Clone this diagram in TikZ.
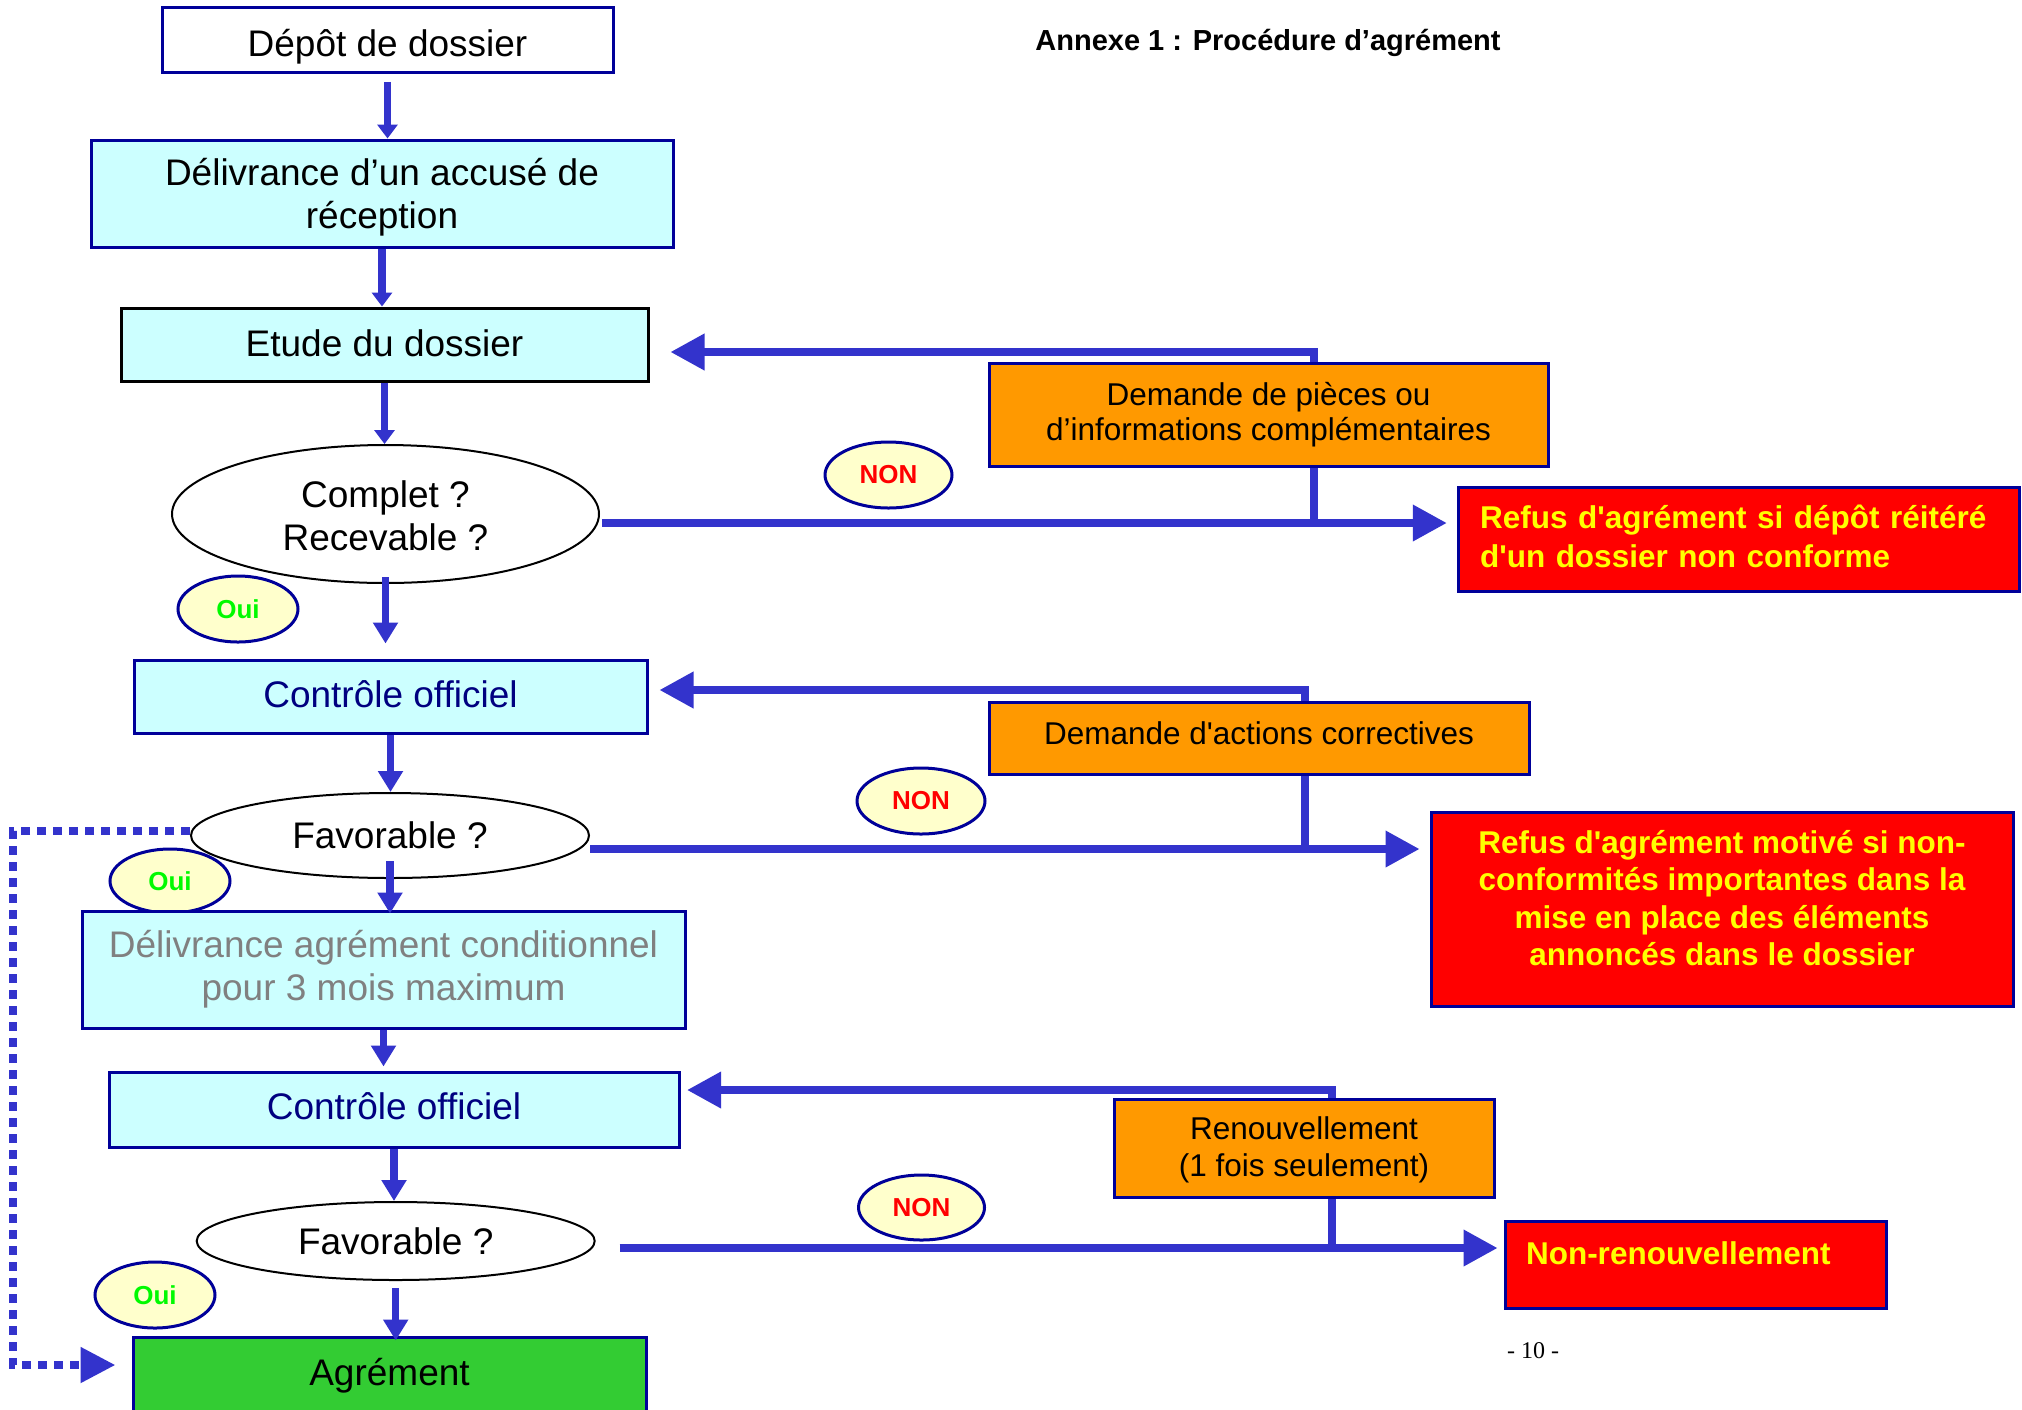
\documentclass[tikz,border=0pt]{standalone}
\usepackage{fontspec}
\setmainfont{Liberation Sans}
\newfontfamily\rawsans{Liberation Sans}[Ligatures=TeXOff]
\newfontfamily\serifpn{Liberation Serif}
\usetikzlibrary{arrows.meta,shapes.geometric}
\definecolor{navyb}{RGB}{0,0,153}
\definecolor{arrowb}{RGB}{51,51,204}
\definecolor{cyanf}{RGB}{204,255,255}
\definecolor{orangef}{RGB}{255,153,0}
\definecolor{redf}{RGB}{255,0,0}
\definecolor{yellowt}{RGB}{255,255,0}
\definecolor{greenf}{RGB}{51,204,51}
\definecolor{ouig}{RGB}{0,250,0}
\definecolor{labf}{RGB}{255,255,204}
\definecolor{ctrlt}{RGB}{0,0,128}
\definecolor{grayt}{RGB}{128,128,128}
\newcommand{\shiftv}[2]{\raisebox{#1}[\height][\depth]{#2}}
\newcommand{\stack}[1]{\begin{tabular}{@{}c@{}}#1\end{tabular}}
\newcommand{\stackl}[1]{\begin{tabular}{@{}l@{}}#1\end{tabular}}
\begin{document}
\begin{tikzpicture}[x=0.5pt,y=-0.5pt,
  mainbox/.style={rectangle, draw=navyb, line width=1.5pt, fill=cyanf, inner sep=0pt, align=center,
    font=\fontsize{18.5}{21.5}\selectfont},
  decision/.style={ellipse, draw=black, line width=1pt, fill=white, inner sep=0pt, align=center,
    font=\fontsize{18.5}{21.5}\selectfont},
  label/.style={ellipse, draw=navyb, line width=1.5pt, fill=labf, inner sep=0pt,
    font=\bfseries\fontsize{13}{15}\selectfont},
  ouilab/.style={label, text=ouig},
  nonlab/.style={label, text=redf},
  orangebox/.style={rectangle, draw=navyb, line width=1.5pt, fill=orangef, inner sep=0pt, align=center,
    font=\fontsize{15.75}{17.5}\selectfont},
  redbox/.style={rectangle, draw=navyb, line width=1.5pt, fill=redf, text=yellowt, inner sep=0pt,
    font=\rawsans\bfseries\fontsize{15.75}{18.75}\selectfont},
  conn/.style={draw=arrowb, line width=3.6pt},
  arrS/.style={conn, -{Triangle[width=10pt,length=7pt]}},
  arrM/.style={conn, -{Triangle[width=12pt,length=10.5pt]}},
  arrL/.style={conn, -{Triangle[width=17.5pt,length=17pt]}},
  dotarr/.style={draw=arrowb, line width=4pt, dash pattern=on 4.5pt off 3.5pt, -{Triangle[width=17pt,length=17.5pt]}}
]
\useasboundingbox (0,0) rectangle (2022,1409);

% title and page number
\node[font=\bfseries\fontsize{14.5}{17}\selectfont] (title) at (1268,43) {Annexe 1 : Procédure d’agrément};
\node[font=\serifpn\fontsize{12}{14}\selectfont] (pn) at (1533,1351) {- 10 -};

% main column
\node[mainbox, fill=white, minimum width=225.5pt, minimum height=32.25pt] (depot) at (387.5,40) {\shiftv{-3.2pt}{Dépôt de dossier}};
\node[mainbox, minimum width=291pt, minimum height=53.5pt] (accuse) at (382,193.5) {\shiftv{-2.6pt}{\stack{Délivrance d’un accusé de\\réception}}};
\node[mainbox, draw=black, minimum width=263.5pt, minimum height=36.5pt] (etude) at (384.5,344.5) {\shiftv{0.6pt}{Etude du dossier}};
\node[decision, minimum width=213.5pt, minimum height=69pt] (complet) at (385.5,514) {\shiftv{-3.3pt}{\stack{Complet ?\\Recevable ?}}};
\node[ouilab, minimum width=60pt, minimum height=33pt] (oui1) at (238,609) {Oui};
\node[mainbox, text=ctrlt, minimum width=256.5pt, minimum height=36.5pt] (ctrl1) at (390.5,696.5) {\shiftv{1.3pt}{Contrôle officiel}};
\node[decision, minimum width=199pt, minimum height=42.5pt] (fav1) at (390,835.5) {Favorable ?};
\node[ouilab, minimum width=60pt, minimum height=32pt] (oui2) at (170,881) {Oui};
\node[mainbox, text=grayt, minimum width=301.5pt, minimum height=58.5pt] (cond) at (383.5,969.5) {Délivrance agrément conditionnel\\pour 3 mois maximum};
\node[mainbox, text=ctrlt, minimum width=285pt, minimum height=37.5pt] (ctrl2) at (394,1109.5) {\shiftv{1.9pt}{Contrôle officiel}};
\node[decision, minimum width=199pt, minimum height=39pt] (fav2) at (395.7,1241) {Favorable ?};
\node[ouilab, minimum width=60pt, minimum height=33pt] (oui3) at (155,1295) {Oui};
\node[mainbox, fill=greenf, minimum width=256.5pt, minimum height=46.5pt] (agr) at (389.5,1383.5) {\shiftv{4pt}{Agrément}};

% right side
\node[orangebox, minimum width=279.5pt, minimum height=51.5pt] (pieces) at (1268.5,414.5) {Demande de pièces ou\\d’informations complémentaires};
\node[redbox, minimum width=280.75pt, minimum height=52pt, text width=259pt, align=left, font=\rawsans\bfseries\fontsize{15.75}{19.5}\selectfont] (refus1) at (1739,539) {\shiftv{-0.7pt}{\stackl{Refus d'agrément si dépôt réitéré\\d'un dossier non conforme}}};
\node[nonlab, minimum width=63.5pt, minimum height=33pt] (non1) at (888.5,475) {NON};

\node[orangebox, minimum width=270pt, minimum height=36pt] (actions) at (1259,738) {\shiftv{2.6pt}{\rawsans Demande d'actions correctives}};
\node[redbox, minimum width=291pt, minimum height=97pt, align=center] (refus2) at (1722,909) {\shiftv{3.5pt}{\stack{Refus d'agrément motivé si non-\\conformités importantes dans la\\mise en place des éléments\\annoncés dans le dossier}}};
\node[nonlab, minimum width=64pt, minimum height=33pt] (non2) at (921,801) {NON};

\node[orangebox, minimum width=190pt, minimum height=49pt, font=\fontsize{15.75}{18.75}\selectfont] (renouv) at (1304,1148) {\shiftv{-1.3pt}{\stack{Renouvellement\\(1 fois seulement)}}};
\node[redbox, minimum width=190.5pt, minimum height=43.5pt, text width=169.5pt, align=left] (nonren) at (1695.5,1264.5) {\shiftv{5.8pt}{Non-renouvellement}};
\node[nonlab, minimum width=63pt, minimum height=32.5pt] (non3) at (921.5,1207.5) {NON};

% vertical flow arrows
\draw[arrS, shorten <=4pt] (depot.south) -- (depot.south |- accuse.north);
\draw[arrS] (accuse.south) -- (accuse.south |- etude.north);
\draw[arrS] (etude.south) -- (etude.south |- complet.north);
\draw[arrM, shorten <=-3.5pt, shorten >=7.5pt] (complet.south) -- (complet.south |- ctrl1.north);
\draw[arrM] (ctrl1.south) -- (ctrl1.south |- fav1.north);
\draw[arrM, shorten <=-9pt, shorten >=-2pt] (fav1.south) -- (fav1.south |- cond.north);
\draw[arrM, shorten >=2pt] (cond.south) -- (cond.south |- ctrl2.north);
\draw[arrM] (ctrl2.south) -- (ctrl2.south |- fav2.north);
\draw[arrM, shorten <=3.5pt, shorten >=-2.5pt] (fav2.south) -- (fav2.south |- agr.north);

% loop 1
\coordinate (j1) at (1314,523);
\coordinate (t1) at (1314,352);
\draw[conn, shorten <=1pt] ([yshift=-4.5pt]complet.east) -- (j1) -- (j1 |- pieces.south);
\draw[arrL, shorten >=10.5pt] (j1 |- pieces.north) -- (t1) -- (t1 -| etude.east);
\draw[arrL, shorten >=5pt] (j1) -- (j1 -| refus1.west);

% loop 2
\coordinate (j2) at (1305,849);
\coordinate (t2) at (1305,690);
\draw[conn] ([yshift=-6.75pt]fav1.east) -- (j2) -- (j2 |- actions.south);
\draw[arrL, shorten >=5.5pt] (j2 |- actions.north) -- (t2) -- (t2 -| ctrl1.east);
\draw[arrL, shorten >=5pt] (j2) -- (j2 -| refus2.west);

% loop 3
\coordinate (j3) at (1332,1248);
\coordinate (t3) at (1332,1090);
\draw[conn, shorten <=12pt] ([yshift=-3.5pt]fav2.east) -- (j3) -- (j3 |- renouv.south);
\draw[arrL, shorten >=3.3pt] (j3 |- renouv.north) -- (t3) -- (t3 -| ctrl2.east);
\draw[arrL, shorten >=3pt] (j3) -- (j3 -| nonren.west);

% dotted bypass
\coordinate (d1) at (13,831);
\coordinate (d2) at (13,1365);
\draw[dotarr, shorten >=8pt] ([yshift=2.25pt]fav1.west) -- (d1) -- (d2) -- (d2 -| agr.west);
\end{tikzpicture}
\end{document}
